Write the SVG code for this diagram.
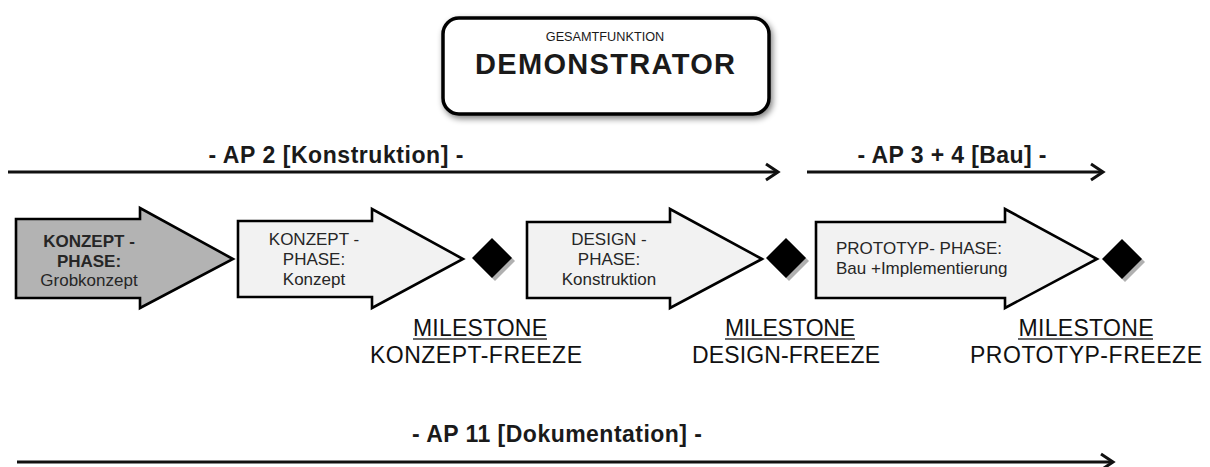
<svg xmlns="http://www.w3.org/2000/svg" width="1210" height="467" viewBox="0 0 1210 467">
  <style>
    .lbl { font-family: "Liberation Sans", Arial, sans-serif; fill: #1a1a1a; }
    .ap { font-size: 23px; font-weight: bold; text-anchor: middle; }
    .ph { font-size: 17px; text-anchor: middle; fill: #262626; }
    .ph.left { text-anchor: start; }
    .phb { font-weight: bold; }
    .ms { font-size: 23px; text-anchor: middle; fill: #111; }
    .block { stroke: #000; stroke-width: 2.6; stroke-linejoin: miter; }
    .line { stroke: #111; stroke-width: 3; fill: none; }
    .head { stroke: #111; stroke-width: 3; fill: none; stroke-linejoin: miter; stroke-linecap: butt; }
    .ul { stroke: #333; stroke-width: 1.5; }
  </style>
  <defs>
    <filter id="boxShadow" x="-10%" y="-20%" width="125%" height="150%">
      <feGaussianBlur in="SourceAlpha" stdDeviation="3"/>
      <feOffset dx="2" dy="3" result="b"/>
      <feComponentTransfer><feFuncA type="linear" slope="0.5"/></feComponentTransfer>
      <feMerge><feMergeNode/><feMergeNode in="SourceGraphic"/></feMerge>
    </filter>
  </defs>

  <rect width="1210" height="467" fill="#fff"/>

  <!-- overall function box -->
  <g id="demonstrator">
    <rect x="443" y="18" width="326" height="96" rx="16" ry="16" fill="#fff" stroke="#000" stroke-width="3.5" filter="url(#boxShadow)"/>
    <text class="lbl" x="605" y="41" font-size="12.7" text-anchor="middle">GESAMTFUNKTION</text>
    <text class="lbl" x="605" y="74" font-size="29" font-weight="bold" text-anchor="middle" fill="#000" textLength="260">DEMONSTRATOR</text>
  </g>

  <!-- work package timelines -->
  <g id="connectors">
    <line class="line" x1="8" y1="172" x2="776" y2="172"/>
    <polyline class="head" points="766,164 778,172 766,180"/>
    <line class="line" x1="807" y1="172" x2="1101" y2="172"/>
    <polyline class="head" points="1091,164 1103,172 1091,180"/>
    <line class="line" x1="17" y1="462" x2="1111" y2="462"/>
    <polyline class="head" points="1101,454 1113,462 1101,470"/>
  </g>

  <g id="ap2">
    <text class="lbl ap" x="336" y="163" textLength="255">- AP 2 [Konstruktion] -</text>
  </g>
  <g id="ap34">
    <text class="lbl ap" x="952" y="163" textLength="189">- AP 3 + 4 [Bau] -</text>
  </g>
  <g id="ap11">
    <text class="lbl ap" x="557" y="442" textLength="290">- AP 11 [Dokumentation] -</text>
  </g>

  <!-- phases -->
  <g id="phase-grobkonzept">
    <path class="block" fill="#b3b3b3" d="M16,219 H140 V208 L233,259 L140,308 V298 H16 Z"/>
    <text class="lbl ph phb" x="89" y="247">KONZEPT -</text>
    <text class="lbl ph phb" x="89" y="267">PHASE:</text>
    <text class="lbl ph" x="89" y="286">Grobkonzept</text>
  </g>

  <g id="phase-konzept">
    <path class="block" fill="#f2f2f2" d="M238,221 H372 V209 L463,259 L372,308 V297 H238 Z"/>
    <text class="lbl ph" x="314" y="245">KONZEPT -</text>
    <text class="lbl ph" x="314" y="265">PHASE:</text>
    <text class="lbl ph" x="314" y="285">Konzept</text>
  </g>

  <g id="phase-design">
    <path class="block" fill="#f2f2f2" d="M527,222 H670 V209 L762,259 L670,308 V298 H527 Z"/>
    <text class="lbl ph" x="609" y="245">DESIGN -</text>
    <text class="lbl ph" x="609" y="265">PHASE:</text>
    <text class="lbl ph" x="609" y="285">Konstruktion</text>
  </g>

  <g id="phase-prototyp">
    <path class="block" fill="#f2f2f2" d="M816,222 H1005 V209 L1097,259 L1005,308 V298 H816 Z"/>
    <text class="lbl ph left" x="836" y="254">PROTOTYP- PHASE:</text>
    <text class="lbl ph left" x="836" y="274">Bau +Implementierung</text>
  </g>

  <!-- milestones -->
  <g id="milestone-konzept">
    <path d="M495,241 L515,261 L495,281 L475,261 Z" fill="#b0b0b0"/>
    <path d="M492,238 L512,258 L492,278 L472,258 Z" fill="#000"/>
    <text class="lbl ms" x="480" y="336" textLength="134">MILESTONE</text>
    <line class="ul" x1="413" y1="339" x2="547" y2="339"/>
    <text class="lbl ms" x="476" y="363" textLength="212">KONZEPT-FREEZE</text>
  </g>

  <g id="milestone-design">
    <path d="M789,241 L809,261 L789,281 L769,261 Z" fill="#b0b0b0"/>
    <path d="M786,238 L806,258 L786,278 L766,258 Z" fill="#000"/>
    <text class="lbl ms" x="790" y="336" textLength="130">MILESTONE</text>
    <line class="ul" x1="725" y1="339" x2="855" y2="339"/>
    <text class="lbl ms" x="786" y="363" textLength="188">DESIGN-FREEZE</text>
  </g>

  <g id="milestone-prototyp">
    <path d="M1125,242 L1145,262 L1125,282 L1105,262 Z" fill="#b0b0b0"/>
    <path d="M1122,239 L1142,259 L1122,279 L1102,259 Z" fill="#000"/>
    <text class="lbl ms" x="1086" y="336" textLength="135">MILESTONE</text>
    <line class="ul" x1="1018" y1="339" x2="1153" y2="339"/>
    <text class="lbl ms" x="1086" y="363" textLength="232">PROTOTYP-FREEZE</text>
  </g>
</svg>
